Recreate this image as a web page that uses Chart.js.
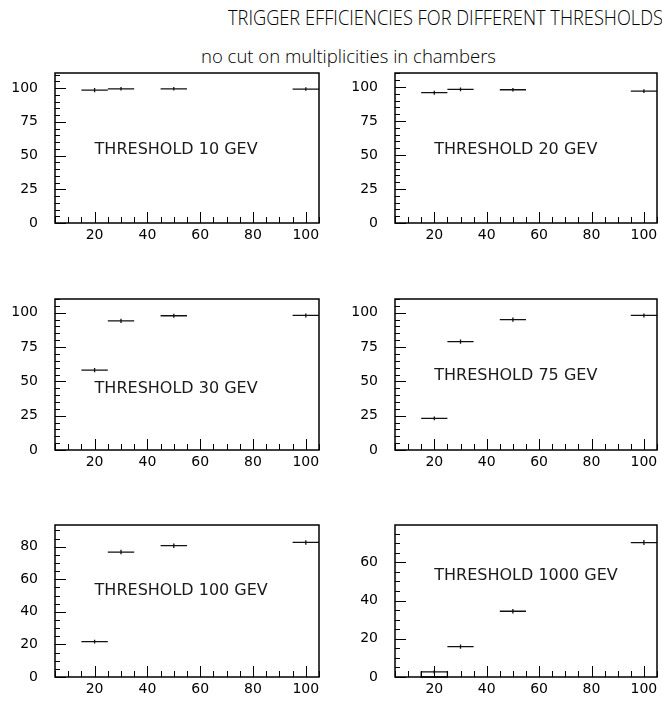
<!DOCTYPE html>
<html>
<head>
<meta charset="utf-8">
<script src="https://cdn.jsdelivr.net/npm/chart.js@4.4.0/dist/chart.umd.min.js"></script>
<style>
  body { margin: 0; background: #fff; width: 662px; height: 705px; position: relative; overflow: hidden; }
  .txt { position: absolute; white-space: nowrap; color: #000; font-family: "Open Sans", sans-serif; font-weight: 300; transform-origin: 0 0; }
  canvas { position: absolute; }
</style>
</head>
<body>
<div class="txt" id="title" style="left:228px; top:3px; font-size:20.5px; transform:scaleX(0.91);">TRIGGER EFFICIENCIES FOR DIFFERENT THRESHOLDS</div>
<div class="txt" id="subtitle" style="left:201px; top:44px; font-size:17.5px;">no cut on multiplicities in chambers</div>

<script>
// ── Data ──
var binCenters = [20, 30, 50, 100];
var binHalfWidth = [5, 5, 5, 5];

var eff10   = [98.5, 99.5, 99.5, 99.3];
var eff20   = [95.8, 98.3, 98.0, 97.0];
var eff30   = [58.2, 94.0, 97.8, 98.0];
var eff75   = [23.0, 79.0, 95.0, 98.0];
var eff100  = [21.7, 76.7, 80.6, 82.6];
var eff1000 = [2.7, 15.9, 34.4, 70.3];

var err10   = [0.8, 0.6, 0.6, 0.6];
var err20   = [0.8, 0.6, 0.6, 0.7];
var err30   = [0.8, 0.8, 0.7, 0.7];
var err75   = [0.6, 0.8, 0.8, 0.7];
var err100  = [0.6, 0.8, 0.8, 0.8];
var err1000 = [0.5, 0.6, 0.7, 0.8];

// first bin of the 1000 GeV panel is drawn as an open box
var box1000 = [true, false, false, false];

var panelLabels = ['THRESHOLD 10 GEV', 'THRESHOLD 20 GEV', 'THRESHOLD 30 GEV',
                   'THRESHOLD 75 GEV', 'THRESHOLD 100 GEV', 'THRESHOLD 1000 GEV'];
var labelPosX = [20, 20, 20, 20, 20, 20];
var labelPosY = [54.5, 54, 44.5, 54.3, 53, 52.8];

var yMaxes     = [111.2, 110.3, 110, 110, 93.3, 79.5];
var yLabelStep = [25, 25, 25, 25, 20, 20];
var xMin = 5, xMax = 105, xLabelStep = 20, minorStep = 5;

var effs  = [eff10, eff20, eff30, eff75, eff100, eff1000];
var errs  = [err10, err20, err30, err75, err100, err1000];
var boxes = [null, null, null, null, null, box1000];

// ── Layout (chart area in page pixels) ──
var colLeft  = [55, 395];
var colRight = [319, 659];
var rowTop    = [73, 299, 525];
var rowBottom = [223, 450, 677];
var canvasLeft  = [0, 340];
var canvasWidth = [330, 322];
var padTop = 30, xAxisH = 25;

var histPlugin = {
  id: 'hist',
  afterDraw: function(chart) {
    var ctx = chart.ctx, a = chart.chartArea;
    var xs = chart.scales.x, ys = chart.scales.y;
    var o = chart.options.plugins.hist;
    ctx.save();

    // bins
    ctx.strokeStyle = '#111';
    ctx.lineWidth = 1.3;
    chart.data.datasets[0].data.forEach(function(p) {
      var x0 = xs.getPixelForValue(p.x - p.dx), x1 = xs.getPixelForValue(p.x + p.dx);
      var xc = xs.getPixelForValue(p.x), yc = ys.getPixelForValue(p.y);
      ctx.beginPath();
      if (p.box) {
        var yb = ys.getPixelForValue(0);
        ctx.rect(x0, yc, x1 - x0, yb - yc);
      } else {
        ctx.moveTo(x0, yc); ctx.lineTo(x1, yc);
      }
      ctx.moveTo(xc, ys.getPixelForValue(p.y - p.dy) + 1);
      ctx.lineTo(xc, ys.getPixelForValue(p.y + p.dy) - 1);
      ctx.stroke();
    });

    // frame
    ctx.strokeStyle = '#000';
    ctx.lineWidth = 1.5;
    ctx.strokeRect(a.left, a.top, a.right - a.left, a.bottom - a.top);

    // inside ticks
    ctx.lineWidth = 1;
    ctx.beginPath();
    xs.ticks.forEach(function(t) {
      var px = Math.round(xs.getPixelForValue(t.value)) + 0.5;
      var len = (t.value % xLabelStep === 0) ? 11 : 6;
      ctx.moveTo(px, a.bottom); ctx.lineTo(px, a.bottom - len);
    });
    ys.ticks.forEach(function(t) {
      var py = Math.round(ys.getPixelForValue(t.value)) + 0.5;
      var len = (t.value % o.yStep === 0) ? 11 : 5;
      ctx.moveTo(a.left, py); ctx.lineTo(a.left + len, py);
    });
    ctx.stroke();

    // panel label
    ctx.fillStyle = '#1a1a1a';
    ctx.font = '16px "DejaVu Sans"';
    ctx.textAlign = 'left';
    ctx.textBaseline = 'middle';
    ctx.fillText(o.label, xs.getPixelForValue(o.lx), ys.getPixelForValue(o.ly));
    ctx.restore();
  }
};

function makePanel(i) {
  var col = i % 2, row = Math.floor(i / 2);
  var top = rowTop[row] - padTop;
  var height = rowBottom[row] + xAxisH - top;
  var cv = document.createElement('canvas');
  cv.width = canvasWidth[col];
  cv.height = height;
  cv.style.left = canvasLeft[col] + 'px';
  cv.style.top = top + 'px';
  cv.style.width = canvasWidth[col] + 'px';
  cv.style.height = height + 'px';
  document.body.appendChild(cv);

  var pts = binCenters.map(function(x, k) {
    return { x: x, y: effs[i][k], dx: binHalfWidth[k], dy: errs[i][k], box: boxes[i] ? boxes[i][k] : false };
  });
  var yStep = yLabelStep[i];
  var yAxisW = colLeft[col] - canvasLeft[col];
  var padRight = canvasLeft[col] + canvasWidth[col] - colRight[col];

  new Chart(cv, {
    type: 'scatter',
    data: { datasets: [{ data: pts, pointRadius: 0, showLine: false }] },
    plugins: [histPlugin],
    options: {
      responsive: false,
      animation: false,
      events: [],
      layout: { padding: { top: padTop, right: padRight, left: 0, bottom: 0 } },
      plugins: {
        legend: { display: false },
        tooltip: { enabled: false },
        hist: { label: panelLabels[i], lx: labelPosX[i], ly: labelPosY[i], yStep: yStep }
      },
      scales: {
        x: {
          type: 'linear', min: xMin, max: xMax,
          grid: { display: false, drawTicks: false },
          border: { display: false },
          afterFit: function(s) { s.height = xAxisH; },
          ticks: {
            stepSize: minorStep, autoSkip: false, maxRotation: 0, includeBounds: false,
            padding: 5, color: '#000', font: { family: 'DejaVu Sans', size: 14, lineHeight: 1 },
            callback: function(v) { return v % xLabelStep === 0 ? String(v) : ''; }
          }
        },
        y: {
          type: 'linear', min: 0, max: yMaxes[i],
          grid: { display: false, drawTicks: false },
          border: { display: false },
          afterFit: function(s) { s.width = yAxisW; },
          ticks: {
            stepSize: minorStep, autoSkip: false, includeBounds: false,
            padding: 17, color: '#000', font: { family: 'DejaVu Sans', size: 14, lineHeight: 1 },
            callback: function(v) { return v % yStep === 0 ? String(v) : ''; }
          }
        }
      }
    }
  });
}

for (var i = 0; i < 6; i++) makePanel(i);

// fit the two heading lines to the widths they have in the original
function fitText(id, w) {
  var el = document.getElementById(id);
  el.style.transform = 'none';
  var cur = el.getBoundingClientRect().width;
  if (cur > 0) el.style.transform = 'scaleX(' + (w / cur) + ')';
}
if (document.fonts && document.fonts.ready) {
  document.fonts.ready.then(function() { fitText('title', 435); fitText('subtitle', 295); });
}
</script>
</body>
</html>
